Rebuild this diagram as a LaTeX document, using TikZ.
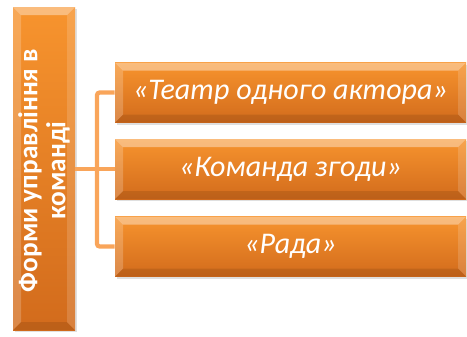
\documentclass[tikz,border=0pt]{standalone}
\usepackage{fontspec}
\setmainfont{Carlito}
\usetikzlibrary{calc,shadows}
\definecolor{orTop}{HTML}{F7942E}
\definecolor{orBot}{HTML}{D26B1C}
\definecolor{conn}{HTML}{F9A55A}
\tikzset{
  bevelbox/.style={rectangle, inner sep=0pt, top color=orTop, bottom color=orBot,
    drop shadow={shadow xshift=1.2pt, shadow yshift=-1.5pt, opacity=0.25},
    path picture={
      \fill[white, opacity=0.38] (path picture bounding box.north west) -- (path picture bounding box.north east)
        -- ($(path picture bounding box.north east)+(-6pt,-6pt)$) -- ($(path picture bounding box.north west)+(6pt,-6pt)$) -- cycle;
      \fill[white, opacity=0.2] (path picture bounding box.north west) -- (path picture bounding box.south west)
        -- ($(path picture bounding box.south west)+(6pt,6pt)$) -- ($(path picture bounding box.north west)+(6pt,-6pt)$) -- cycle;
      \fill[black, opacity=0.10] (path picture bounding box.south west) -- (path picture bounding box.south east)
        -- ($(path picture bounding box.south east)+(-6pt,6pt)$) -- ($(path picture bounding box.south west)+(6pt,6pt)$) -- cycle;
      \fill[white, opacity=0.15] (path picture bounding box.north east) -- (path picture bounding box.south east)
        -- ($(path picture bounding box.south east)+(-6pt,6pt)$) -- ($(path picture bounding box.north east)+(-6pt,-6pt)$) -- cycle;
    }},
  sidebox/.style={bevelbox, minimum width=263.25pt, minimum height=45pt,
    text=white, font=\itshape\fontsize{22.5}{26}\selectfont},
  connector/.style={draw=conn, line width=3.2pt, rounded corners=2pt}
}
\begin{document}
\begin{tikzpicture}[x=0.75pt,y=-0.75pt]
\useasboundingbox (0,0) rectangle (467,336);
\node[bevelbox, minimum width=46.5pt, minimum height=242.25pt] (L) at (44,168.5) {};
\node[rotate=90, align=center, text=white, font=\bfseries\fontsize{20.5}{21}\selectfont] (Lt) at ($(L.center)+(0,2)$) {Форми управління в\\команді};
\node[sidebox] (B1) at (290.5,92.5) {«Театр одного актора»};
\node[sidebox] (B2) at (290.5,169) {«Команда згоди»};
\node[sidebox] (B3) at (290.5,246.5) {«Рада»};
\coordinate (J) at (97,169);
\draw[connector] (L.east |- B2.west) -- (B2.west);
\draw[connector] (B1.west) -| (J) |- (B3.west);
\end{tikzpicture}
\end{document}
